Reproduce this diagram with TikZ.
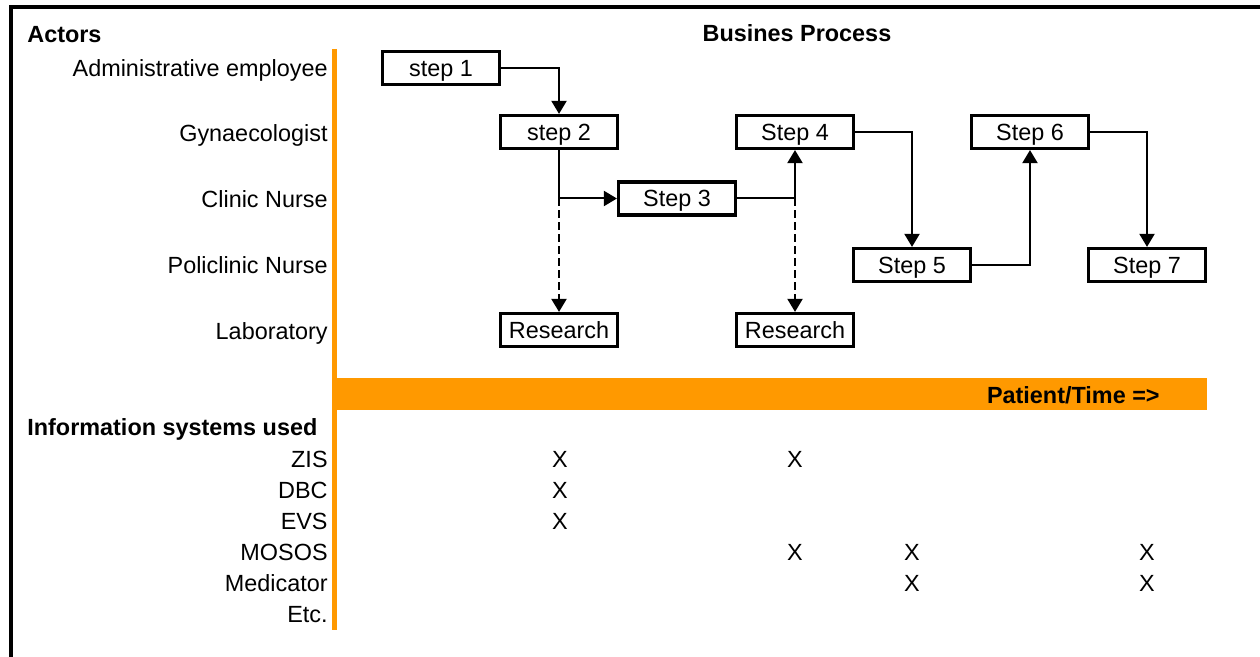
\documentclass[tikz,border=0pt]{standalone}
\usepackage{fontspec}
\setmainfont{Liberation Sans}
\usepackage{tikz}
\usetikzlibrary{arrows.meta}
\definecolor{barorange}{RGB}{255,153,0}

\begin{document}
\begin{tikzpicture}[x=0.5pt, y=-0.5pt,
        every node/.style={inner sep=0pt, text height=8.4pt, text depth=0pt,
            font=\fontsize{11.7}{14}\selectfont},
        title/.style={font=\fontsize{11.7}{14}\selectfont\bfseries},
        stepbox/.style={draw, line width=1.6pt, minimum width=58.5pt, minimum height=16.5pt},
        flow/.style={line width=1pt, -{Triangle[width=7.5pt, length=6.5pt]}},
        labflow/.style={flow, dash pattern=on 4pt off 2pt},
        lane/.style={draw=barorange, line width=2.5pt}]
            \useasboundingbox(0, 0)rectangle(1260, 657);
            \draw[line width=2pt](11, 657)--(11, 7)--(1260, 7);
            \draw[lane](334.5, 49)--(334.5, 630);
            \fill[barorange](334, 378)rectangle(1207, 410);
            \node[title, anchor=west](actors) at (27, 34){Actors};
            \node[title](process) at (797, 33){Busines Process};
            \node[title, anchor=east](time) at (1160, 395){Patient/Time =>};
            \node[title, anchor=west](systems) at (27, 427){Information systems used};
            % actors
            \node[anchor=east](admin) at (328, 68){Administrative employee};
            \node[anchor=east](gyn) at (328, 133){Gynaecologist};
            \node[anchor=east](clinic) at (328, 199){Clinic Nurse};
            \node[anchor=east](poli) at (328, 265){Policlinic Nurse};
            \node[anchor=east](lab) at (328, 331){Laboratory};
            % steps
            \node[stepbox](s1) at (441, 68){step 1};
            \node[stepbox](s2) at (559, 132){step 2};
            \node[stepbox](s3) at (677, 198.5){Step 3};
            \node[stepbox](s4) at (795, 132){Step 4};
            \node[stepbox](s5) at (912, 265){Step 5};
            \node[stepbox](s6) at (1030, 132){Step 6};
            \node[stepbox](s7) at (1147, 265){Step 7};
            \node[stepbox](r1) at (559, 330){Research};
            \node[stepbox](r2) at (795, 330){Research};
            \coordinate(j1) at (s2.south |- s3.west);
            \coordinate(j2) at (s4.south |- s3.east);
            \draw[flow](s1.east)-|(s2.north);
            \draw[flow](s2.south)|-(s3.west);
            \draw[flow](s3.east)-|(s4.south);
            \draw[flow](s4.east)-|(s5.north);
            \draw[flow](s5.east)-|(s6.south);
            \draw[flow](s6.east)-|(s7.north);
            \draw[labflow](j1)--(r1.north);
            \draw[labflow](j2)--(r2.north);
            % information systems
            \foreach \name/\y in {ZIS/459, DBC/490, EVS/521, MOSOS/552, Medicator/583, Etc./614}
                \node[anchor=east](sys-\y) at (328, \y){\name};
            \foreach \x/\y in {560/459, 795/459, 560/490, 560/521, 795/552, 912/552, 1147/552, 912/583, 1147/583}
                \node(mark-\x-\y) at (\x, \y){X};
        \end{tikzpicture}
\end{document}
